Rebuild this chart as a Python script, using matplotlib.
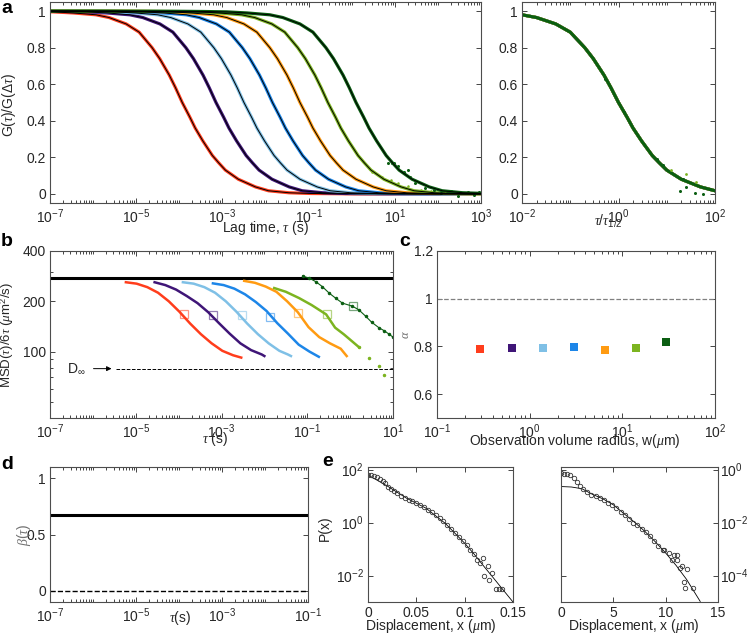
import numpy as np
import matplotlib
matplotlib.use('Agg')
import matplotlib.pyplot as plt
from matplotlib.ticker import FixedLocator, LogLocator, NullFormatter, NullLocator

plt.rcParams['font.family'] = ['Liberation Sans', 'DejaVu Sans']
plt.rcParams['mathtext.fontset'] = 'custom'
plt.rcParams['mathtext.rm'] = 'Liberation Sans'
plt.rcParams['mathtext.it'] = 'Liberation Serif:italic'
plt.rcParams['mathtext.bf'] = 'Liberation Sans:bold'
plt.rcParams['font.size'] = 10

colors = ['#ff3d1c', '#3f1577', '#7fc0e6', '#1d86e8', '#ff9b12', '#7cb420', '#0b5e12']

# --- a: correlation curves, collapsed shape G vs tau/tau_half
u_master = [1e-9, 1e-6, 1e-4, 3e-4, 1e-3, 3e-3, 0.01, 0.02, 0.05, 0.1, 0.2, 0.3, 0.5, 0.7,
            1.0, 1.5, 2.0, 3.0, 5.0, 7.0, 10, 20, 50, 100, 300, 1e3, 1e4, 1e6]
g_master = [1.0, 1.0, 0.999, 0.998, 0.996, 0.99, 0.98, 0.965, 0.93, 0.885, 0.80, 0.74, 0.65, 0.58,
            0.50, 0.42, 0.36, 0.29, 0.21, 0.17, 0.13, 0.08, 0.038, 0.017, 0.006, 0.002, 0.0, 0.0]
tau_half = [1.17e-4, 7.1e-4, 3.16e-3, 1.45e-2, 6.3e-2, 0.28, 1.26]

# scattered points of the slowest curves (left panel)
dg_noise_tau = [6.8, 8.5, 9.5, 12, 16.5, 20, 23, 30, 50, 80, 120, 200, 300, 500, 700, 900]
dg_noise_g = [0.167, 0.17, 0.17, 0.15, 0.12, 0.13, 0.094, 0.06, 0.03, 0.02, 0.005, 0.015, -0.01, 0.012, -0.005, 0.01]
lg_noise_tau = [3, 5, 8, 12, 20, 40, 70, 150]
lg_noise_g = [0.12, 0.09, 0.075, 0.06, 0.045, 0.02, 0.015, 0.005]

# scattered points in the collapsed panel
dgc_u = [0.52, 1.27, 6.2, 8.3, 18.6, 21.7, 25.5, 38, 56, 78]
dgc_g = [0.63, 0.45, 0.19, 0.16, 0.015, 0.08, 0.04, 0.005, 0.0, 0.025]
lgc_u = [12, 25.5, 41]
lgc_g = [0.13, 0.107, 0.065]

# --- b: MSD/6tau curves (log10 of lag time, value)
msd_logtau = [
    [-5.23, -4.98, -4.73, -4.48, -4.23, -3.98, -3.73, -3.48, -3.23, -2.98, -2.73, -2.54],
    [-4.56, -4.31, -4.06, -3.81, -3.56, -3.31, -3.06, -2.81, -2.56, -2.31, -2.06, -2.0],
    [-3.90, -3.65, -3.40, -3.15, -2.90, -2.65, -2.40, -2.15, -1.90, -1.65, -1.45, -1.38],
    [-3.20, -2.95, -2.70, -2.45, -2.20, -1.95, -1.70, -1.45, -1.20, -0.95, -0.73],
    [-2.47, -2.22, -1.97, -1.72, -1.47, -1.22, -0.97, -0.72, -0.47, -0.22, -0.08],
    [-1.77, -1.50, -1.19, -0.90, -0.56, -0.35, -0.15, -0.02, 0.21, 0.44, 0.67, 0.79],
    [-1.11, -0.95, -0.80, -0.65, -0.49, -0.33, -0.18, 0.05, 0.20, 0.36, 0.50, 0.67, 0.80, 0.91, 1.0],
]
msd_val = [
    [260, 255, 243, 225, 200, 173, 147, 127, 112, 101, 95, 92],
    [260, 250, 235, 215, 195, 172, 148, 128, 112, 102, 96, 94],
    [260, 255, 243, 225, 200, 173, 147, 127, 112, 101, 96, 94],
    [256, 250, 238, 220, 198, 175, 148, 128, 110, 100, 93],
    [265, 258, 245, 228, 200, 172, 140, 122, 112, 104, 94],
    [240, 228, 209, 190, 167, 139, 127, 119, 106, 92, 82, 72],
    [283, 275, 262, 245, 224, 208, 195, 187, 178, 163, 150, 139, 133, 127, 122],
]
sq_logtau = [-3.88, -3.20, -2.52, -1.86, -1.21, -0.54, 0.07]
sq_val = [168, 165, 165, 161, 171, 167, 187]
D0 = 277
Dinf = 79

# --- c: anomalous exponent vs observation radius
w_radius = [0.29, 0.65, 1.39, 3.03, 6.45, 14.1, 29.9]
alpha_w = [0.789, 0.793, 0.793, 0.799, 0.786, 0.793, 0.819]

# --- d
beta_val = 0.677

# --- e: displacement distributions
x_e1 = [0.000, 0.003, 0.006, 0.009, 0.012, 0.015, 0.018, 0.021, 0.024, 0.027, 0.030, 0.034,
        0.038, 0.042, 0.046, 0.050, 0.054, 0.058, 0.062, 0.066, 0.070, 0.074, 0.078, 0.082,
        0.086, 0.090, 0.094, 0.098, 0.102, 0.106, 0.110, 0.1124, 0.1159, 0.1193, 0.1241,
        0.120, 0.128, 0.125, 0.132, 0.135, 0.139]
p_e1 = [63, 62, 59, 54, 45, 37, 30, 23, 19, 15.5, 13, 10.5, 8.7, 7.4, 6.5, 5.5, 4.6, 3.8, 3.1,
        2.5, 1.95, 1.45, 1.1, 0.78, 0.55, 0.39, 0.28, 0.20, 0.14, 0.093, 0.063, 0.039, 0.030,
        0.045, 0.023, 0.010, 0.013, 0.0065, 0.0032, 0.0032, 0.0032]
xfit_e1 = [0.0, 0.02, 0.04, 0.06, 0.08, 0.10, 0.11, 0.12, 0.13, 0.14, 0.15]
pfit_e1 = [63, 24, 8.3, 3.5, 0.93, 0.166, 0.063, 0.022, 0.0079, 0.0028, 0.001]

x_e2 = [0, 0.3, 0.6, 0.9, 1.2, 1.5, 1.8, 2.1, 2.5, 2.9, 3.3, 3.7, 4.1, 4.5, 4.9, 5.3, 5.7, 6.1,
        6.5, 6.9, 7.3, 7.7, 8.1, 8.5, 8.9, 9.3, 9.7, 9.8, 10.28, 10.76, 11.08, 10.6, 11.08,
        11.56, 11.4, 12.04, 11.72, 11.88, 12.6]
p_e2 = [0.72, 0.71, 0.68, 0.62, 0.50, 0.35, 0.25, 0.19, 0.145, 0.115, 0.10, 0.083, 0.069, 0.056,
        0.045, 0.035, 0.026, 0.0195, 0.014, 0.010, 0.0078, 0.0058, 0.0043, 0.0030, 0.0021,
        0.00135, 0.0009, 0.00093, 0.0007, 0.0006, 0.0006, 0.00039, 0.00039, 0.00022, 0.00019,
        0.00017, 5.9e-5, 3.3e-5, 3.3e-5]
xfit_e2 = [0, 1, 2, 3, 4, 5, 6, 7, 8, 9, 10, 11, 12, 13.3]
pfit_e2 = [0.23, 0.221, 0.19, 0.117, 0.079, 0.047, 0.022, 0.0105, 0.0047, 0.0019, 0.00071,
           0.00024, 7.1e-5, 1.05e-5]

tick_a = [1e-7, 1e-5, 1e-3, 1e-1, 1e1, 1e3]
tick_a2 = [1e-2, 1e0, 1e2]
tick_c = [0.1, 1, 10, 100]
tick_d = [1e-7, 1e-5, 1e-3, 1e-1]

W, H = 747, 636


def rect(x0, x1, y0, y1):
    return [x0 / W, 1 - y1 / H, (x1 - x0) / W, (y1 - y0) / H]


def style(ax):
    ax.tick_params(which='both', direction='in', top=True, right=True,
                   colors='#262626', labelsize=10, width=0.6, pad=3)
    ax.tick_params(which='major', length=3.5)
    ax.tick_params(which='minor', length=2)
    for s in ax.spines.values():
        s.set_color('#4d4d4d')
        s.set_linewidth(0.8)


def logx(ax, ticks):
    ax.set_xscale('log')
    ax.xaxis.set_major_locator(FixedLocator(ticks))
    ax.xaxis.set_minor_locator(LogLocator(base=10, subs=np.arange(1, 10), numticks=200))
    ax.xaxis.set_minor_formatter(NullFormatter())


fig = plt.figure(figsize=(7.47, 6.36), dpi=100)

# ---------------- a left
ax = fig.add_axes(rect(50, 481, 2, 203))
style(ax)
logx(ax, tick_a)
for th, c in zip(tau_half, colors):
    ax.plot(np.array(u_master) * th, g_master, color=c, lw=2.3, solid_capstyle='butt')
ax.plot(lg_noise_tau, lg_noise_g, 'o', color=colors[5], ms=1.8, mew=0)
ax.plot(dg_noise_tau, dg_noise_g, 'o', color=colors[6], ms=2.2, mew=0)
for th in tau_half:
    ax.plot(np.array(u_master) * th, g_master, color='black', lw=0.7)
ax.set_xlim(1e-7, 1e3)
ax.set_ylim(-0.05, 1.05)
ax.set_yticks([0, 0.2, 0.4, 0.6, 0.8, 1])
ax.set_yticklabels(['0', '0.2', '0.4', '0.6', '0.8', '1'])
ax.set_ylabel(r'G($\tau$)/G($\Delta\tau$)', color='#262626')
ax.yaxis.set_label_coords(-0.075, 0.49)
ax.set_xlabel(r'Lag time, $\tau$ (s)', color='#262626')
ax.xaxis.set_label_coords(0.499, -0.08)

# ---------------- a right
ax = fig.add_axes(rect(522, 715, 2, 203))
style(ax)
logx(ax, tick_a2)
for c in colors:
    ax.plot(u_master, g_master, color=c, lw=2.2)
ax.plot(lgc_u, lgc_g, 'o', color=colors[5], ms=2, mew=0)
ax.plot(dgc_u, dgc_g, 'o', color=colors[6], ms=2.2, mew=0)
ax.set_xlim(1e-2, 1e2)
ax.set_ylim(-0.05, 1.05)
ax.set_yticks([0, 0.2, 0.4, 0.6, 0.8, 1])
ax.set_yticklabels(['0', '0.2', '0.4', '0.6', '0.8', '1'])
ax.set_xlabel(r'$\tau/\tau_{1/2}$', color='#262626')
ax.xaxis.set_label_coords(0.45, -0.05)

# ---------------- b
ax = fig.add_axes(rect(50, 393, 251, 418))
style(ax)
logx(ax, tick_a[:-1])
ax.set_yscale('log')
ax.axhline(D0, color='black', lw=2.2)
for i, c in enumerate(colors):
    xs = 10 ** np.array(msd_logtau[i])
    if i == 6:
        ax.plot(xs, msd_val[i], '.-', color=c, lw=0.8, ms=3)
    elif i == 5:
        ax.plot(xs[:9], msd_val[i][:9], color=c, lw=1.8)
        ax.plot(xs[8:], msd_val[i][8:], '.', color=c, ms=3)
    else:
        ax.plot(xs, msd_val[i], color=c, lw=1.8)
    ax.plot(10 ** sq_logtau[i], sq_val[i], 's', mfc='none', mec=c, alpha=0.55, ms=6, mew=0.9)
ax.plot([10 ** -5.45, 10], [Dinf, Dinf], '--', color='black', lw=0.7)
ax.annotate('', xy=(10 ** -5.5, Dinf), xytext=(10 ** -6.05, Dinf),
            arrowprops=dict(arrowstyle='-|>', color='black', lw=0.7, mutation_scale=7))
ax.text(10 ** -6.38, Dinf, r'D$_{\infty}$', ha='center', va='center', fontsize=10, color='#262626')
ax.set_xlim(1e-7, 1e1)
ax.set_ylim(40, 400)
ax.yaxis.set_major_locator(FixedLocator([100, 200, 400]))
ax.set_yticklabels(['100', '200', '400'])
ax.yaxis.set_minor_formatter(NullFormatter())
ax.set_ylabel(r'MSD($\tau$)/6$\tau$ ($\mu$m$^2$/s)', color='#262626', fontsize=9.5)
ax.yaxis.set_label_coords(-0.098, 0.5)
ax.set_xlabel(r'$\tau$ (s)', color='#262626')
ax.xaxis.set_label_coords(0.481, -0.07)

# ---------------- c
ax = fig.add_axes(rect(437, 715, 251, 418))
style(ax)
logx(ax, tick_c)
ax.axhline(1.0, color='#808080', lw=0.9, ls='--')
for wv, av, c in zip(w_radius, alpha_w, colors):
    ax.plot(wv, av, 's', color=c, ms=5.5, mew=0)
ax.set_xlim(0.1, 100)
ax.set_ylim(0.5, 1.2)
ax.set_yticks([0.6, 0.8, 1.0, 1.2])
ax.set_yticklabels(['0.6', '0.8', '1', '1.2'])
ax.set_ylabel(r'$\alpha$', color='#707070', fontsize=9)
ax.yaxis.set_label_coords(-0.09, 0.5)
ax.set_xlabel(r'Observation volume radius, w($\mu$m)', color='#262626')
ax.xaxis.set_label_coords(0.496, -0.085)

# ---------------- d
ax = fig.add_axes(rect(50, 308, 467, 602))
style(ax)
logx(ax, tick_d)
ax.axhline(beta_val, color='black', lw=2.2)
ax.axhline(0, color='black', lw=1.0, ls='--')
ax.set_xlim(1e-7, 1e-1)
ax.set_ylim(-0.1, 1.1)
ax.set_yticks([0, 0.5, 1])
ax.set_yticklabels(['0', '0.5', '1'])
ax.set_ylabel(r'$\beta(\tau)$', color='#707070', fontsize=10)
ax.yaxis.set_label_coords(-0.065, 0.5)
ax.text(0.504, -0.118, r'$\tau$(s)', transform=ax.transAxes, ha='center', va='center',
        color='#262626', fontsize=10)

# ---------------- e left
ax = fig.add_axes(rect(368, 513, 467, 602))
style(ax)
ax.set_yscale('log')
ax.plot(xfit_e1, pfit_e1, color='black', lw=0.6)
ax.plot(x_e1, p_e1, 'o', mfc='none', mec='#333333', ms=3.2, mew=0.6)
ax.set_xlim(0, 0.15)
ax.set_ylim(1e-3, 10 ** 2.1)
ax.set_xticks([0, 0.05, 0.1, 0.15])
ax.set_xticklabels(['0', '0.05', '0.1', '0.15'])
ax.yaxis.set_major_locator(FixedLocator([1e-2, 1e0, 1e2]))
ax.yaxis.set_minor_locator(NullLocator())
ax.set_ylabel('P(x)', color='#262626')
ax.yaxis.set_label_coords(-0.25, 0.55)
ax.set_xlabel(r'Displacement, x ($\mu$m)', color='#262626')
ax.xaxis.set_label_coords(0.434, -0.11)

# ---------------- e right
ax = fig.add_axes(rect(561, 718, 467, 602))
style(ax)
ax.set_yscale('log')
ax.plot(xfit_e2, pfit_e2, color='black', lw=0.6)
ax.plot(x_e2, p_e2, 'o', mfc='none', mec='#333333', ms=3.2, mew=0.6)
ax.set_xlim(0, 15)
ax.set_ylim(1e-5, 10 ** 0.1)
ax.set_xticks([0, 5, 10, 15])
ax.yaxis.set_major_locator(FixedLocator([1e-4, 1e-2, 1e0]))
ax.yaxis.set_minor_locator(NullLocator())
ax.tick_params(axis='y', labelleft=False, labelright=True, pad=1.5)
ax.set_xlabel(r'Displacement, x ($\mu$m)', color='#262626')
ax.xaxis.set_label_coords(0.465, -0.11)

# panel letters
for letter, x, y in [('a', 1, 0), ('b', 1, 233), ('c', 399, 233), ('d', 1, 456), ('e', 322, 453)]:
    fig.text(x / W, 1 - y / H, letter, fontsize=14, fontweight='bold', va='top', ha='left')

fig.savefig('out.png', dpi=100)
